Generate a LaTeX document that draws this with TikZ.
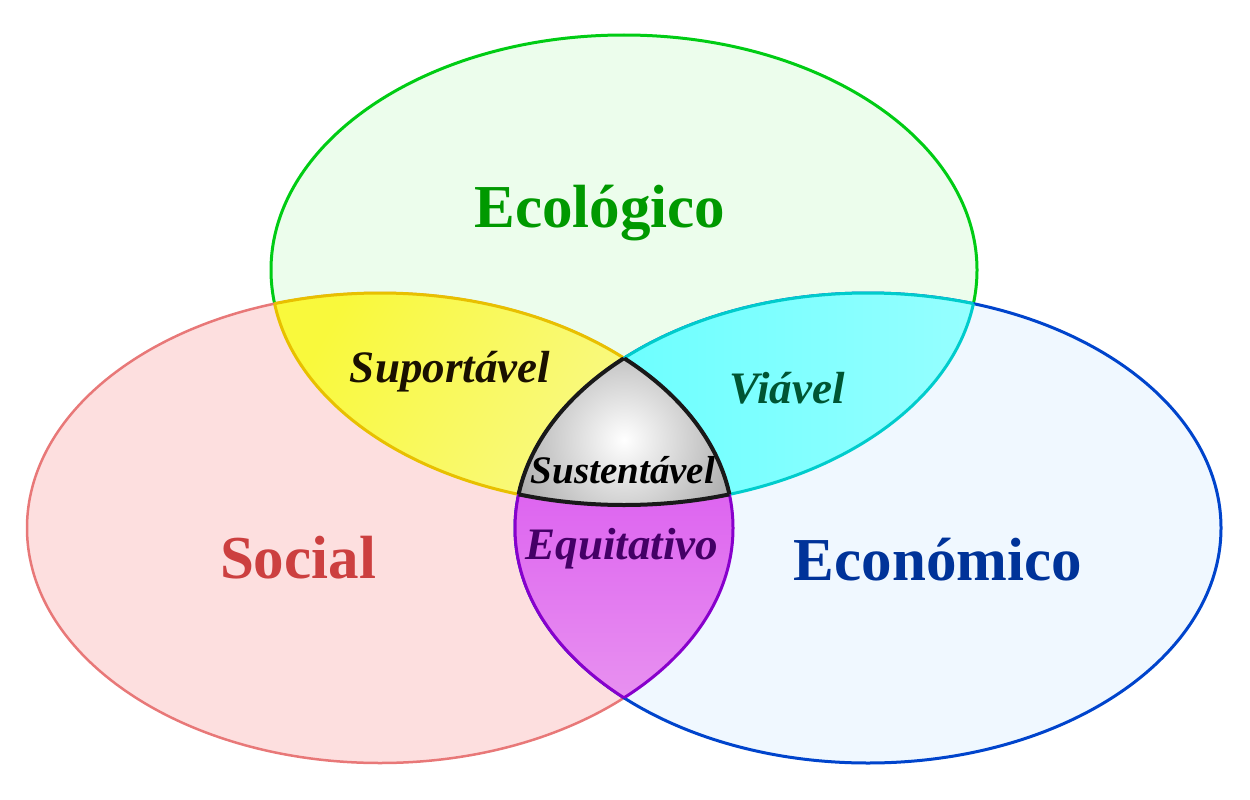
\documentclass[tikz,border=0pt]{standalone}
\usepackage{fontspec}
\setmainfont{Liberation Serif}
\definecolor{egreen}{RGB}{0,204,20}
\definecolor{efill}{RGB}{236,253,236}
\definecolor{sred}{RGB}{232,120,120}
\definecolor{sfill}{RGB}{253,223,223}
\definecolor{cblue}{RGB}{0,68,204}
\definecolor{cfill}{RGB}{240,248,255}
\definecolor{gold}{RGB}{232,192,0}
\definecolor{yel1}{RGB}{249,249,60}
\definecolor{yel2}{RGB}{249,249,150}
\definecolor{cyanst}{RGB}{0,204,204}
\definecolor{cy1}{RGB}{96,255,255}
\definecolor{cy2}{RGB}{150,255,255}
\definecolor{purp}{RGB}{136,0,204}
\definecolor{pu1}{RGB}{214,70,240}
\definecolor{pu2}{RGB}{232,145,240}
\definecolor{tgreen}{RGB}{0,153,0}
\definecolor{tred}{RGB}{204,64,64}
\definecolor{tblue}{RGB}{0,51,153}
\definecolor{tbrown}{RGB}{26,16,0}
\definecolor{tdgreen}{RGB}{0,85,51}
\definecolor{tpurp}{RGB}{68,0,102}
\begin{document}
\begin{tikzpicture}[x=1pt,y=-1pt,
  big/.style={font=\fontsize{61}{70}\selectfont\bfseries},
  small/.style={font=\fontsize{45}{52}\selectfont\bfseries\itshape},
  tiny/.style={font=\fontsize{39}{46}\selectfont\bfseries\itshape},
  lens/.style={line width=3pt},
  ring/.style={line width=3pt}]
\useasboundingbox (0,0) rectangle (1250,800);
\def\Epath{(624,270) ellipse [x radius=353pt, y radius=235pt]}
\def\Spath{(380,528) ellipse [x radius=353pt, y radius=235pt]}
\def\Cpath{(868,528) ellipse [x radius=353pt, y radius=235pt]}
% base ellipses
\draw[ring, egreen, fill=efill] \Epath;
\draw[ring, sred, fill=sfill, line width=2.5pt] \Spath;
\draw[ring, cblue, fill=cfill] \Cpath;
% Suportavel lens (E and S)
\begin{scope}
  \clip \Epath; \clip \Spath;
  \shade[left color=yel1, right color=yel2, shading angle=60] (270,290) rectangle (740,500);
\end{scope}
\begin{scope}
  \clip \Epath;
  \draw[lens, gold] \Spath;
\end{scope}
\begin{scope}
  \clip \Spath;
  \draw[lens, gold] \Epath;
\end{scope}
% Viavel lens (E and C)
\begin{scope}
  \clip \Epath; \clip \Cpath;
  \shade[left color=cy1, right color=cy2] (510,290) rectangle (980,500);
\end{scope}
\begin{scope}
  \clip \Epath;
  \draw[lens, cyanst] \Cpath;
\end{scope}
\begin{scope}
  \clip \Cpath;
  \draw[lens, cyanst] \Epath;
\end{scope}
% Equitativo lens (S and C)
\begin{scope}
  \clip \Spath; \clip \Cpath;
  \shade[top color=pu1, bottom color=pu2] (510,350) rectangle (740,700);
\end{scope}
\begin{scope}
  \clip \Spath;
  \draw[lens, purp] \Cpath;
\end{scope}
\begin{scope}
  \clip \Cpath;
  \draw[lens, purp] \Spath;
\end{scope}
% Sustentavel (all three)
\begin{scope}
  \clip \Epath;
  \clip \Spath;
  \clip \Cpath;
  \shade[inner color=white, outer color=black!50] (624,440) circle [radius=180pt];
\end{scope}
\begin{scope}
  \clip \Epath; \clip \Spath;
  \draw[line width=4pt, black!90] \Cpath;
\end{scope}
\begin{scope}
  \clip \Epath; \clip \Cpath;
  \draw[line width=4pt, black!90] \Spath;
\end{scope}
\begin{scope}
  \clip \Spath; \clip \Cpath;
  \draw[line width=4pt, black!90] \Epath;
\end{scope}
% labels
\node[big, text=tgreen] (eco) at (600,213) {Ecológico};
\node[big, text=tred] (soc) at (298,558) {Social};
\node[big, text=tblue] (econ) at (938,560) {Económico};
\node[small, text=tbrown] (sup) at (450,372) {Suportável};
\node[small, text=tdgreen] (via) at (787,388) {Viável};
\node[tiny, text=black] (sus) at (623,470) {Sustentável};
\node[small, text=tpurp] (equ) at (622,549) {Equitativo};
\end{tikzpicture}
\end{document}
